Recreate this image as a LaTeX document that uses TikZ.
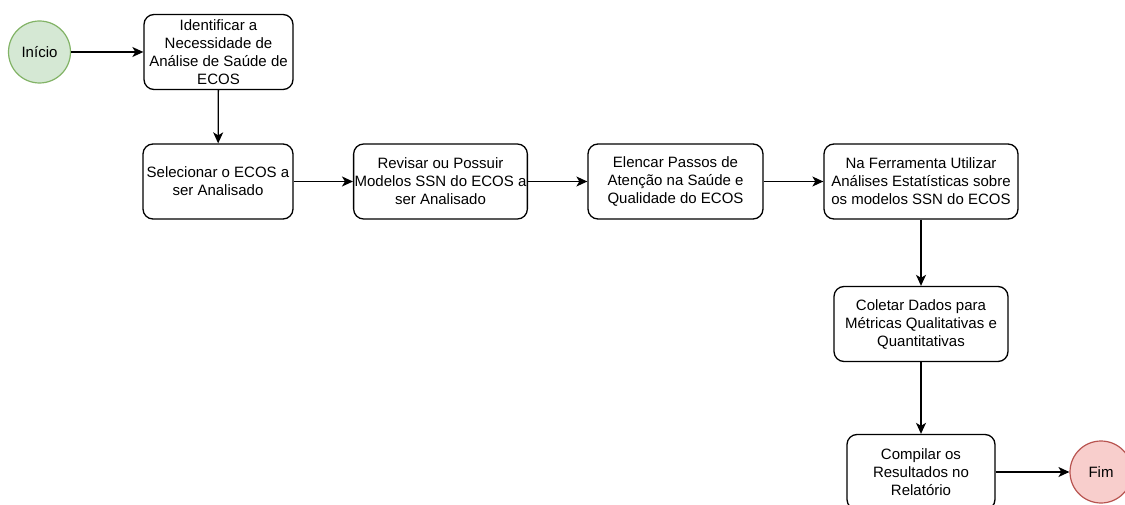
\documentclass[tikz,border=0pt]{standalone}
\usepackage{fontspec}
\setmainfont{Liberation Sans}
\usepackage{tikz}
\usetikzlibrary{arrows.meta}
\definecolor{startfill}{HTML}{D5E8D4}
\definecolor{startline}{HTML}{82B366}
\definecolor{endfill}{HTML}{F8CECC}
\definecolor{endline}{HTML}{B85450}
\begin{document}
\begin{tikzpicture}[x=1pt,y=-1pt,
        stepbox/.style={draw, line width=1.3pt, rounded corners=10pt, align=center,
          font=\fontsize{15}{18}\selectfont, minimum height=75pt, inner sep=1pt},
        startnode/.style={circle, draw=startline, fill=startfill, line width=1.2pt,
          minimum size=62pt, font=\fontsize{15}{18}\selectfont},
        endnode/.style={circle, draw=endline, fill=endfill, line width=1.2pt,
          minimum size=62pt, font=\fontsize{15}{18}\selectfont},
        flow/.style={-{Stealth[length=11pt,width=10pt,inset=3pt]}, line width=1.3pt}]
        \useasboundingbox (0,0) rectangle (1125,505);
        %
        \node [startnode] (inicio) at (39.5,52) {Início};
        \node [stepbox, minimum width=149pt] (identificar) at (218.5,52)
          {Identificar a\\Necessidade de\\Análise de Saúde de\\ECOS};
        \node [stepbox, minimum width=150pt] (selecionar) at (218,181.5)
          {Selecionar o ECOS a\\ser Analisado};
        \node [stepbox, minimum width=173pt] (revisar) at (440.5,181.5)
          {Revisar ou Possuir\\Modelos SSN do ECOS a\\ser Analisado};
        \node [stepbox, minimum width=175pt] (elencar) at (675.5,181.5)
          {Elencar Passos de\\Atenção na Saúde e\\Qualidade do ECOS};
        \node [stepbox, minimum width=194pt] (ferramenta) at (921,181.5)
          {Na Ferramenta Utilizar\\Análises Estatísticas sobre\\os modelos SSN do ECOS};
        \node [stepbox, minimum width=174pt] (coletar) at (921,324)
          {Coletar Dados para\\Métricas Qualitativas e\\Quantitativas};
        \node [stepbox, minimum width=148pt] (compilar) at (921,472)
          {Compilar os\\Resultados no\\Relatório};
        \node [endnode] (fim) at (1101,472) {Fim};
        %
        \draw [flow] (inicio) -- (identificar);
        \draw [flow] (identificar) -- (selecionar);
        \draw [flow] (selecionar) -- (revisar);
        \draw [flow] (revisar) -- (elencar);
        \draw [flow] (elencar) -- (ferramenta);
        \draw [flow] (ferramenta) -- (coletar);
        \draw [flow] (coletar) -- (compilar);
        \draw [flow] (compilar) -- (fim);
      \end{tikzpicture}
\end{document}
